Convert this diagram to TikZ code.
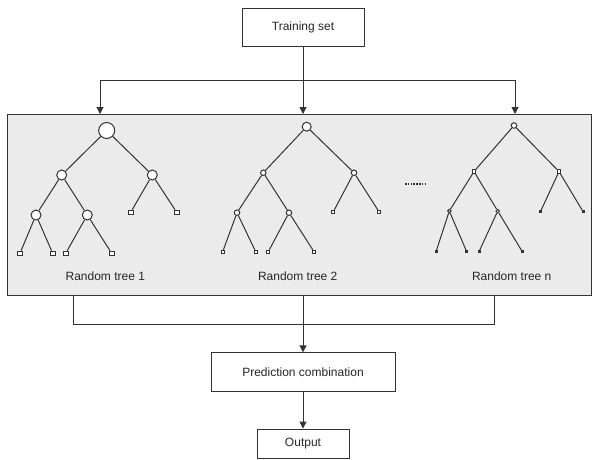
\documentclass[tikz,border=0pt]{standalone}
\usepackage{fontspec}
\setmainfont{Liberation Sans}
\usetikzlibrary{arrows.meta}
\definecolor{ln}{HTML}{333333}
\definecolor{panelfill}{HTML}{EBEBEB}
\definecolor{txt}{HTML}{262626}
\begin{document}
\begin{tikzpicture}[x=1pt,y=-1pt,
  line width=1pt,
  every node/.style={text=txt,font=\fontsize{12}{14}\selectfont},
  box/.style={draw=ln,fill=white,line width=1pt,inner sep=0pt},
  arr/.style={draw=ln,-{Triangle[length=7pt,width=7pt]}},
  conn/.style={draw=ln},
  edge/.style={draw=ln,line width=1pt},
  ca/.style={circle,draw=ln,fill=white,line width=1pt,inner sep=0pt,minimum size=#1},
  sq/.style={rectangle,draw=ln,fill=white,line width=0.9pt,inner sep=0pt,minimum size=#1}
]
\useasboundingbox (0,0) rectangle (593,459);

% boxes
\node[box,minimum width=122pt,minimum height=38.5pt] (ts) at (303,27.5) {Training set};
\node[box,minimum width=184pt,minimum height=39pt] (pc) at (303,372.3) {Prediction combination};
\node[box,minimum width=92pt,minimum height=29pt] (out) at (303,443.5) {Output};

% panel
\node[draw=ln,fill=panelfill,line width=1pt,minimum width=584pt,minimum height=181pt,inner sep=0pt] (panel) at (299,204.5) {};

% top connectors
\coordinate (tl) at (100,80);
\coordinate (tr) at (515,80);
\coordinate (p1) at (100,114);
\coordinate (p2) at (303,114);
\coordinate (p3) at (515,114);
\draw[conn] (tl) -- (tr);
\draw[arr] (ts.south) -- (p2);
\draw[arr] (tl) -- (p1);
\draw[arr] (tr) -- (p3);

% bottom connectors
\coordinate (q1) at (73,295);
\coordinate (q2) at (303,295);
\coordinate (q3) at (494,295);
\coordinate (r1) at (73,324);
\coordinate (r3) at (494,324);
\draw[conn] (q1) -- (r1) -- (r3) -- (q3);
\draw[arr] (q2) -- (pc.north);
\draw[arr] (pc.south) -- (out.north);

% ---------- tree 1 ----------
\node[ca=16pt] (a0) at (106.7,130.5) {};
\node[ca=10pt] (a1) at (61.7,175) {};
\node[ca=10pt] (a2) at (152.3,175) {};
\node[ca=10pt] (a3) at (36,215) {};
\node[ca=10pt] (a4) at (87.3,215) {};
\node[sq=4.5pt] (al1) at (130.7,212.3) {};
\node[sq=4.5pt] (al2) at (176.7,212.3) {};
\node[sq=4.5pt] (al3) at (20,253.3) {};
\node[sq=4.5pt] (al4) at (52.7,253.3) {};
\node[sq=4.5pt] (al5) at (65.7,253.3) {};
\node[sq=4.5pt] (al6) at (111.7,253.3) {};
\draw[edge] (a0) -- (a1); \draw[edge] (a0) -- (a2);
\draw[edge] (a1) -- (a3); \draw[edge] (a1) -- (a4);
\draw[edge] (a2) -- (al1); \draw[edge] (a2) -- (al2);
\draw[edge] (a3) -- (al3); \draw[edge] (a3) -- (al4);
\draw[edge] (a4) -- (al5); \draw[edge] (a4) -- (al6);
\node (lab1) at (105.3,276.7) {Random tree 1};

% ---------- tree 2 ----------
\node[ca=9pt] (b0) at (306.7,126.7) {};
\node[ca=5.5pt] (b1) at (263.3,172.7) {};
\node[ca=5.5pt] (b2) at (354,172.7) {};
\node[ca=5.5pt] (b3) at (237,212.7) {};
\node[ca=5.5pt] (b4) at (289,212.7) {};
\node[sq=3pt] (bl1) at (333.3,211.7) {};
\node[sq=3pt] (bl2) at (379,211.7) {};
\node[sq=3pt] (bl3) at (222.7,251.7) {};
\node[sq=3pt] (bl4) at (255.7,251.7) {};
\node[sq=3pt] (bl5) at (268.3,251.7) {};
\node[sq=3pt] (bl6) at (314,251.7) {};
\draw[edge] (b0) -- (b1); \draw[edge] (b0) -- (b2);
\draw[edge] (b1) -- (b3); \draw[edge] (b1) -- (b4);
\draw[edge] (b2) -- (bl1); \draw[edge] (b2) -- (bl2);
\draw[edge] (b3) -- (bl3); \draw[edge] (b3) -- (bl4);
\draw[edge] (b4) -- (bl5); \draw[edge] (b4) -- (bl6);
\node (lab2) at (297.7,276.7) {Random tree 2};

% dots
\coordinate (d1) at (405,184);
\coordinate (d2) at (425,184);
\draw[ln,line width=1.2pt,dash pattern=on 1.6pt off 1.2pt] (d1) -- (d2);

% ---------- tree n ----------
\node[ca=5.5pt] (c0) at (514,125.5) {};
\node[sq=3.5pt] (c1) at (474,171.5) {};
\node[sq=3.5pt] (c2) at (559,171.5) {};
\node[ca=3.5pt] (c3) at (449.3,211) {};
\node[ca=3.5pt] (c4) at (497.7,211) {};
\node[sq=2pt,fill=ln] (cl1) at (540.5,211.5) {};
\node[sq=2pt,fill=ln] (cl2) at (583,211.5) {};
\node[sq=2pt,fill=ln] (cl3) at (436,251.7) {};
\node[sq=2pt,fill=ln] (cl4) at (466.7,251.7) {};
\node[sq=2pt,fill=ln] (cl5) at (479,251.7) {};
\node[sq=2pt,fill=ln] (cl6) at (522.3,251.7) {};
\draw[edge] (c0) -- (c1); \draw[edge] (c0) -- (c2);
\draw[edge] (c1) -- (c3); \draw[edge] (c1) -- (c4);
\draw[edge] (c2) -- (cl1); \draw[edge] (c2) -- (cl2);
\draw[edge] (c3) -- (cl3); \draw[edge] (c3) -- (cl4);
\draw[edge] (c4) -- (cl5); \draw[edge] (c4) -- (cl6);
\node (labn) at (511.7,276.7) {Random tree n};
\end{tikzpicture}
\end{document}
